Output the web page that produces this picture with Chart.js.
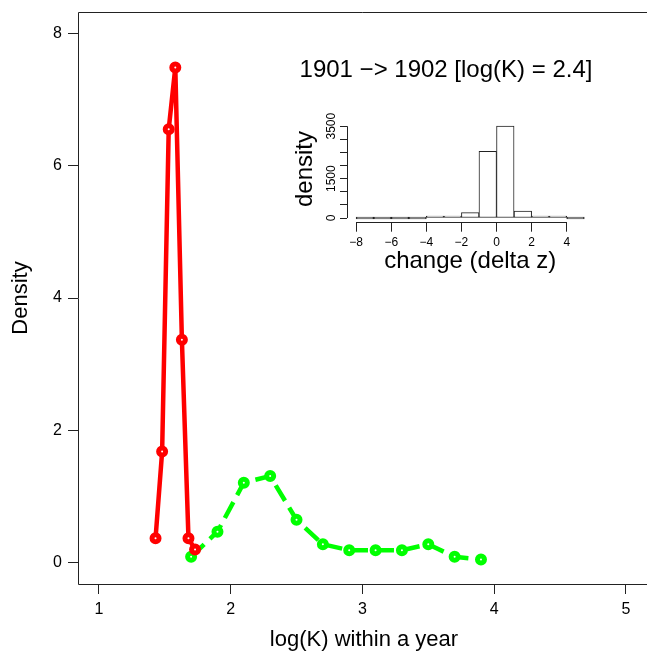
<!DOCTYPE html>
<html lang="en">

<head>
    <meta charset="UTF-8">
    <title>log(K) within a year</title>

    <!--Link do ChartJS-->
    <script src="https://cdn.jsdelivr.net/npm/chart.js"></script>

    <style>
        body {
            margin: 0;
            background: #fff;
            overflow: hidden;
        }

        .tela {
            position: relative;
            width: 647px;
            height: 659px;
        }

        #grafico {
            position: absolute;
            left: 0;
            top: 0;
        }

        #inset {
            position: absolute;
            left: 280px;
            top: 95px;
        }
    </style>
</head>

<body>

    <div class="tela">
        <canvas id="grafico" width="647" height="659"></canvas>
        <canvas id="inset" width="340" height="185"></canvas>
    </div>

    <script>
        // dados do grafico principal
        const redX = [1.43, 1.48, 1.53, 1.58, 1.63, 1.68, 1.73];
        const redY = [0.37, 1.68, 6.55, 7.48, 3.37, 0.37, 0.20];

        const greenX = [1.7, 1.9, 2.1, 2.3, 2.5, 2.7, 2.9, 3.1, 3.3, 3.5, 3.7, 3.9];
        const greenY = [0.09, 0.47, 1.21, 1.31, 0.65, 0.28, 0.19, 0.19, 0.19, 0.28, 0.09, 0.05];

        const xTicks = [1, 2, 3, 4, 5];
        const yTicks = [0, 2, 4, 6, 8];

        // dados do histograma (inset)
        const binMids = [-7.5, -6.5, -5.5, -4.5, -3.5, -2.5, -1.5, -0.5, 0.5, 1.5, 2.5, 3.5, 4.5];
        const binCounts = [0, 0, 0, 0, 4, 38, 206, 2540, 3500, 268, 38, 6, 0];
        const insetXTicks = [-8, -6, -4, -2, 0, 2, 4];
        const insetYTicks = [0, 500, 1000, 1500, 2000, 2500, 3000, 3500];
        const insetYLabels = [0, 1500, 3500];

        const tituloInset = '1901 \u2212> 1902 [log(K) = 2.4]';
        const fonte = '"Liberation Sans", Arial, Helvetica, sans-serif';

        function pontos(xs, ys) {
            let lista = [];
            for (let i = 0; i < xs.length; i++) {
                lista.push({ x: xs[i], y: ys[i] });
            }
            return lista;
        }

        function menos(v) {
            return String(v).replace('-', '\u2212');
        }

        // tira o espaco extra que o Chart.js reserva pros labels das pontas
        function semPadding(s, tamanho) {
            if (s.isHorizontal()) {
                s.height = tamanho;
            } else {
                s.width = tamanho;
            }
            s.paddingLeft = 0;
            s.paddingRight = 0;
            s.paddingTop = 0;
            s.paddingBottom = 0;
        }

        // moldura (esquerda, cima, baixo) e textos dos eixos
        const molduraPrincipal = {
            id: 'molduraPrincipal',
            afterDraw(chart) {
                const ctx = chart.ctx;
                const area = chart.chartArea;
                const l = Math.round(area.left) + 0.5;
                const t = Math.round(area.top) + 0.5;
                const b = Math.round(area.bottom) + 0.5;
                ctx.save();
                ctx.strokeStyle = '#222';
                ctx.lineWidth = 1;
                ctx.beginPath();
                ctx.moveTo(chart.width, t);
                ctx.lineTo(l, t);
                ctx.lineTo(l, b);
                ctx.lineTo(chart.width, b);
                ctx.stroke();

                ctx.fillStyle = '#000';
                ctx.textAlign = 'center';
                ctx.textBaseline = 'middle';
                ctx.font = '22px ' + fonte;
                ctx.fillText('log(K) within a year', 364, 640);

                ctx.font = '24px ' + fonte;
                ctx.textBaseline = 'alphabetic';
                ctx.fillText(tituloInset, 446, 77);

                ctx.translate(21, 298);
                ctx.rotate(-Math.PI / 2);
                ctx.font = '22px ' + fonte;
                ctx.textBaseline = 'middle';
                ctx.fillText('Density', 0, 0);
                ctx.restore();
            }
        };

        const config = {
            type: 'scatter',
            data: {
                datasets: [{
                    data: pontos(redX, redY),
                    showLine: true,
                    borderColor: '#ff0000',
                    borderWidth: 4.5,
                    pointRadius: 3.5,
                    pointBorderWidth: 5,
                    pointBorderColor: '#ff0000',
                    pointBackgroundColor: '#ffffff',
                    tension: 0
                }, {
                    data: pontos(greenX, greenY),
                    showLine: true,
                    borderColor: '#00ff00',
                    borderWidth: 4.5,
                    borderDash: [18, 8],
                    pointRadius: 3.5,
                    pointBorderWidth: 5,
                    pointBorderColor: '#00ff00',
                    pointBackgroundColor: '#ffffff',
                    tension: 0
                }]
            },
            options: {
                responsive: false,
                animation: false,
                // padding negativo: a borda direita do grafico fica fora do canvas, como no R
                layout: { autoPadding: false, padding: { top: 12, right: -3.5, left: 0, bottom: 0 } },
                plugins: { legend: { display: false }, tooltip: { enabled: false } },
                scales: {
                    x: {
                        type: 'linear',
                        min: 0.8415,
                        max: 5.16,
                        afterBuildTicks: (s) => { s.ticks = xTicks.map(v => ({ value: v })); },
                        afterFit: (s) => semPadding(s, 75),
                        grid: { drawOnChartArea: false, tickLength: 10, tickColor: '#222' },
                        border: { display: false },
                        ticks: { color: '#000', font: { family: fonte, size: 16 }, padding: 6, maxRotation: 0, autoSkip: false }
                    },
                    y: {
                        min: -0.32,
                        max: 8.32,
                        afterBuildTicks: (s) => { s.ticks = yTicks.map(v => ({ value: v })); },
                        afterFit: (s) => semPadding(s, 78),
                        grid: { drawOnChartArea: false, tickLength: 10, tickColor: '#222' },
                        border: { display: false },
                        ticks: { color: '#000', font: { family: fonte, size: 16 }, padding: 6 }
                    }
                }
            },
            plugins: [molduraPrincipal]
        };

        new Chart(document.getElementById('grafico'), config);

        // eixos do inset (linha so entre o primeiro e o ultimo tick, como no R)
        const eixosInset = {
            id: 'eixosInset',
            afterDraw(chart) {
                const ctx = chart.ctx;
                const area = chart.chartArea;
                const sx = chart.scales.x;
                const sy = chart.scales.y;
                ctx.save();
                ctx.strokeStyle = '#222';
                ctx.lineWidth = 1;
                ctx.beginPath();
                ctx.moveTo(sx.getPixelForValue(insetXTicks[0]), Math.round(area.bottom) + 0.5);
                ctx.lineTo(sx.getPixelForValue(insetXTicks[insetXTicks.length - 1]), Math.round(area.bottom) + 0.5);
                ctx.moveTo(Math.round(area.left) + 0.5, sy.getPixelForValue(insetYTicks[0]));
                ctx.lineTo(Math.round(area.left) + 0.5, sy.getPixelForValue(insetYTicks[insetYTicks.length - 1]));
                ctx.stroke();

                ctx.fillStyle = '#000';
                ctx.textAlign = 'center';
                ctx.textBaseline = 'middle';
                ctx.font = '24px ' + fonte;
                ctx.fillText('change (delta z)', (area.left + area.right) / 2, 166);

                ctx.translate(25, 74);
                ctx.rotate(-Math.PI / 2);
                ctx.fillText('density', 0, 0);
                ctx.restore();
            }
        };

        const configInset = {
            type: 'bar',
            data: {
                datasets: [{
                    data: pontos(binMids, binCounts),
                    backgroundColor: '#ffffff',
                    borderColor: '#222',
                    borderWidth: 1,
                    borderSkipped: false,
                    barPercentage: 1,
                    categoryPercentage: 1,
                    minBarLength: 2
                }]
            },
            options: {
                responsive: false,
                animation: false,
                layout: { autoPadding: false, padding: { top: 27, right: 26.6, left: 0, bottom: 0 } },
                plugins: { legend: { display: false }, tooltip: { enabled: false } },
                scales: {
                    x: {
                        type: 'linear',
                        offset: false,
                        min: -8.52,
                        max: 5.52,
                        afterBuildTicks: (s) => { s.ticks = insetXTicks.map(v => ({ value: v })); },
                        afterFit: (s) => semPadding(s, 58.3),
                        grid: { offset: false, drawOnChartArea: false, tickLength: 10, tickColor: '#222' },
                        border: { display: false },
                        ticks: { color: '#000', font: { family: fonte, size: 12 }, padding: 4, maxRotation: 0, autoSkip: false, callback: (v) => menos(v) }
                    },
                    y: {
                        min: -140,
                        max: 3660,
                        afterBuildTicks: (s) => { s.ticks = insetYTicks.map(v => ({ value: v })); },
                        afterFit: (s) => semPadding(s, 67),
                        grid: { drawOnChartArea: false, tickLength: 7, tickColor: '#222' },
                        border: { display: false },
                        ticks: {
                            color: '#000', font: { family: fonte, size: 12 }, padding: -5,
                            minRotation: 90, maxRotation: 90, crossAlign: 'center', autoSkip: false,
                            callback: (v) => insetYLabels.includes(v) ? String(v) : ''
                        }
                    }
                }
            },
            plugins: [eixosInset]
        };

        new Chart(document.getElementById('inset'), configInset);
    </script>
</body>

</html>
